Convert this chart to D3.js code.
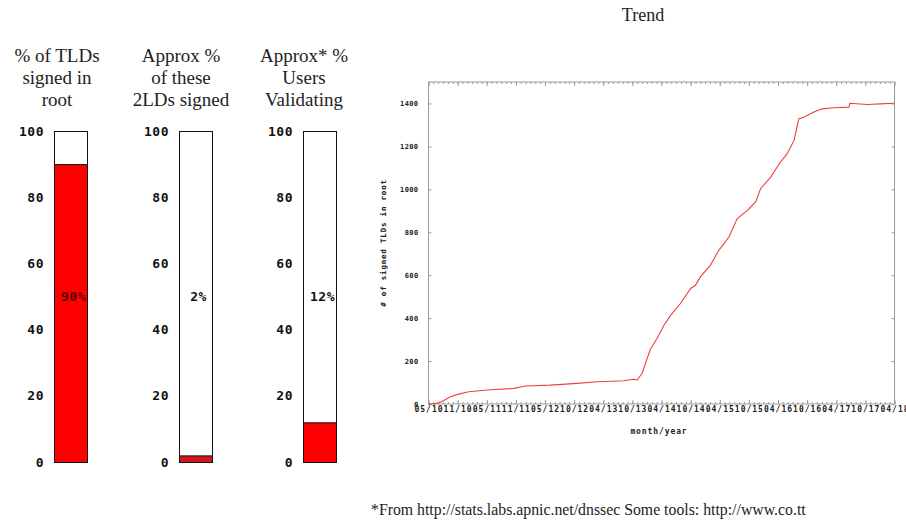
<!DOCTYPE html>
<html>
<head>
<meta charset="utf-8">
<script src="https://cdn.jsdelivr.net/npm/d3@7.9.0/dist/d3.min.js"></script>
<style>
  body { margin: 0; background: #fff; }
  svg { display: block; }
</style>
</head>
<body>
<svg width="906" height="520"></svg>
<script>
// --- data ---
const barTitles = [
  ["% of TLDs", "signed in", "root"],
  ["Approx %", "of these", "2LDs signed"],
  ["Approx* %", "Users", "Validating"]
];
const barValues = [90, 2, 12];
const barLabels = ["90%", "2%", "12%"];
const barTicks = [0, 20, 40, 60, 80, 100];

// months since 05/2010 and number of signed TLDs in root
const trendMonth = [0, 1.6, 2.8, 4.5, 6.2, 8.3, 12.1, 17.6, 20.0, 25.1, 30.6, 34.8, 40.2, 42.3, 43.0,
  44.0, 45.7, 47.1, 48.5, 49.9, 51.9, 54.0, 55.0, 56.0, 58.1, 59.8, 61.9, 63.6, 65.7, 67.4, 68.4,
  70.5, 72.5, 73.9, 75.3, 76.3, 77.3, 79.4, 81.1, 83.5, 86.6, 86.8, 90.4, 93.1, 95.9];
const trendCount = [0, 3, 12, 34, 46, 57, 65, 73, 84, 88, 96, 104, 108, 115, 112,
  143, 255, 306, 367, 414, 468, 538, 553, 592, 647, 716, 778, 864, 902, 941, 1003,
  1057, 1127, 1166, 1228, 1329, 1336, 1360, 1375, 1380, 1383, 1401, 1395, 1398, 1401];
const trendTickLabels = ["05/10", "11/10", "05/11", "11/11", "05/12", "10/12", "04/13", "10/13",
  "04/14", "10/14", "04/15", "10/15", "04/16", "10/16", "04/17", "10/17", "04/18"];
const trendYTicks = [0, 200, 400, 600, 800, 1000, 1200, 1400];

const svg = d3.select('svg');
const mono = 'DejaVu Sans Mono, monospace';
const serif = 'Liberation Serif, Times New Roman, serif';

// --- three percentage bars ---
const barLeft = [54, 179, 303];
const titleX = [57, 181, 304];
const barW = 33;
const barFill = ['#ff0000', '#d0161b', '#ff0000'];
const yBar = d3.scaleLinear().domain([0, 100]).range([462, 131]);

barValues.forEach((v, i) => {
  let g = svg.append('g');

  let t = g.append('text')
    .attr('x', titleX[i])
    .attr('y', 62)
    .attr('text-anchor', 'middle')
    .attr('font-family', serif)
    .attr('font-size', 19)
    .attr('fill', '#222');
  barTitles[i].forEach((line, k) => {
    t.append('tspan').attr('x', titleX[i]).attr('dy', k === 0 ? 0 : 22.2).text(line);
  });

  let axis = g.append('g')
    .attr('transform', `translate(${barLeft[i] - 10},0)`)
    .call(d3.axisLeft(yBar).tickValues(barTicks).tickSize(0).tickPadding(0));
  axis.select('.domain').remove();
  axis.selectAll('text')
    .attr('font-family', mono)
    .attr('font-weight', 'bold')
    .attr('font-size', 13)
    .attr('letter-spacing', 0.5)
    .attr('fill', '#111');

  g.append('rect')
    .attr('x', barLeft[i] + 0.5)
    .attr('y', yBar(100) + 0.5)
    .attr('width', barW)
    .attr('height', yBar(0) - yBar(100))
    .attr('fill', '#fff')
    .attr('stroke', '#111');
  g.append('rect')
    .attr('x', barLeft[i] + 0.5)
    .attr('y', yBar(v) + 0.5)
    .attr('width', barW)
    .attr('height', yBar(0) - yBar(v))
    .attr('fill', barFill[i])
    .attr('stroke', '#111');

  g.append('text')
    .attr('x', barLeft[i] + barW / 2 + 3)
    .attr('y', yBar(50))
    .attr('dy', '0.35em')
    .attr('text-anchor', 'middle')
    .attr('font-family', mono)
    .attr('font-weight', 'bold')
    .attr('font-size', 13)
    .attr('letter-spacing', 0.5)
    .attr('fill', v > 50 ? '#5a0000' : '#111')
    .text(barLabels[i]);
});

// --- trend chart ---
const x = d3.scaleLinear().domain([0, 96]).range([428.5, 894.5]);
const y = d3.scaleLinear().domain([0, 1500]).range([404, 82]);
const frameColor = '#9a9a9a';

svg.append('text')
  .attr('x', 643).attr('y', 21)
  .attr('text-anchor', 'middle')
  .attr('font-family', serif)
  .attr('font-size', 18)
  .attr('fill', '#222')
  .text('Trend');

const monthTicks = d3.range(0, 97, 1);
const majorTicks = d3.range(0, 97, 6);

// minor ticks, bottom and top
svg.append('g').attr('transform', 'translate(0,404)')
  .call(d3.axisBottom(x).tickValues(monthTicks).tickSize(-2).tickFormat(''))
  .call(g => g.select('.domain').remove())
  .selectAll('line').attr('stroke', frameColor);
svg.append('g').attr('transform', 'translate(0,82)')
  .call(d3.axisTop(x).tickValues(monthTicks).tickSize(-2).tickFormat(''))
  .call(g => g.select('.domain').remove())
  .selectAll('line').attr('stroke', frameColor);
svg.append('g').attr('transform', 'translate(0,82)')
  .call(d3.axisTop(x).tickValues(majorTicks).tickSize(-4).tickFormat(''))
  .call(g => g.select('.domain').remove())
  .selectAll('line').attr('stroke', frameColor);

// major ticks with labels
let xAxis = svg.append('g').attr('transform', 'translate(0,404)')
  .call(d3.axisBottom(x).tickValues(majorTicks).tickSize(-4)
    .tickFormat((d, i) => trendTickLabels[i]));
xAxis.select('.domain').remove();
xAxis.selectAll('line').attr('stroke', frameColor);
xAxis.selectAll('text')
  .attr('y', 2)
  .attr('font-family', mono)
  .attr('font-weight', 'bold')
  .attr('font-size', 8)
  .attr('letter-spacing', 1)
  .attr('fill', '#222');

let yAxis = svg.append('g').attr('transform', 'translate(428.5,0)')
  .call(d3.axisLeft(y).tickValues(trendYTicks).tickSize(-3).tickPadding(10)
    .tickFormat(d3.format('d')));
yAxis.select('.domain').remove();
yAxis.selectAll('line').attr('stroke', frameColor);
yAxis.selectAll('text')
  .attr('font-family', mono)
  .attr('font-weight', 'bold')
  .attr('font-size', 7)
  .attr('letter-spacing', 0.4)
  .attr('fill', '#222');

svg.append('g').attr('transform', 'translate(894.5,0)')
  .call(d3.axisRight(y).tickValues(trendYTicks).tickSize(-3).tickFormat(''))
  .call(g => g.select('.domain').remove())
  .selectAll('line').attr('stroke', frameColor);

svg.append('rect')
  .attr('x', 428.5).attr('y', 82)
  .attr('width', 466).attr('height', 322)
  .attr('fill', 'none')
  .attr('stroke', frameColor);

let line = d3.line()
  .x((d, i) => x(trendMonth[i]))
  .y(d => y(d));
svg.append('path')
  .datum(trendCount)
  .attr('d', line)
  .attr('fill', 'none')
  .attr('stroke', '#ee4040')
  .attr('stroke-width', 1.1);

svg.append('text')
  .attr('transform', 'translate(383,243) rotate(-90)')
  .attr('text-anchor', 'middle')
  .attr('dy', '0.35em')
  .attr('font-family', mono)
  .attr('font-weight', 'bold')
  .attr('font-size', 7.5)
  .attr('letter-spacing', 0.8)
  .attr('fill', '#222')
  .text('# of signed TLDs in root');

svg.append('text')
  .attr('x', 659).attr('y', 434)
  .attr('text-anchor', 'middle')
  .attr('font-family', mono)
  .attr('font-weight', 'bold')
  .attr('font-size', 8)
  .attr('letter-spacing', 0.9)
  .attr('fill', '#222')
  .text('month/year');

svg.append('text')
  .attr('x', 371).attr('y', 515)
  .attr('font-family', serif)
  .attr('font-size', 15.8)
  .attr('fill', '#222')
  .text('*From http://stats.labs.apnic.net/dnssec Some tools: http://www.co.tt');
</script>
</body>
</html>
